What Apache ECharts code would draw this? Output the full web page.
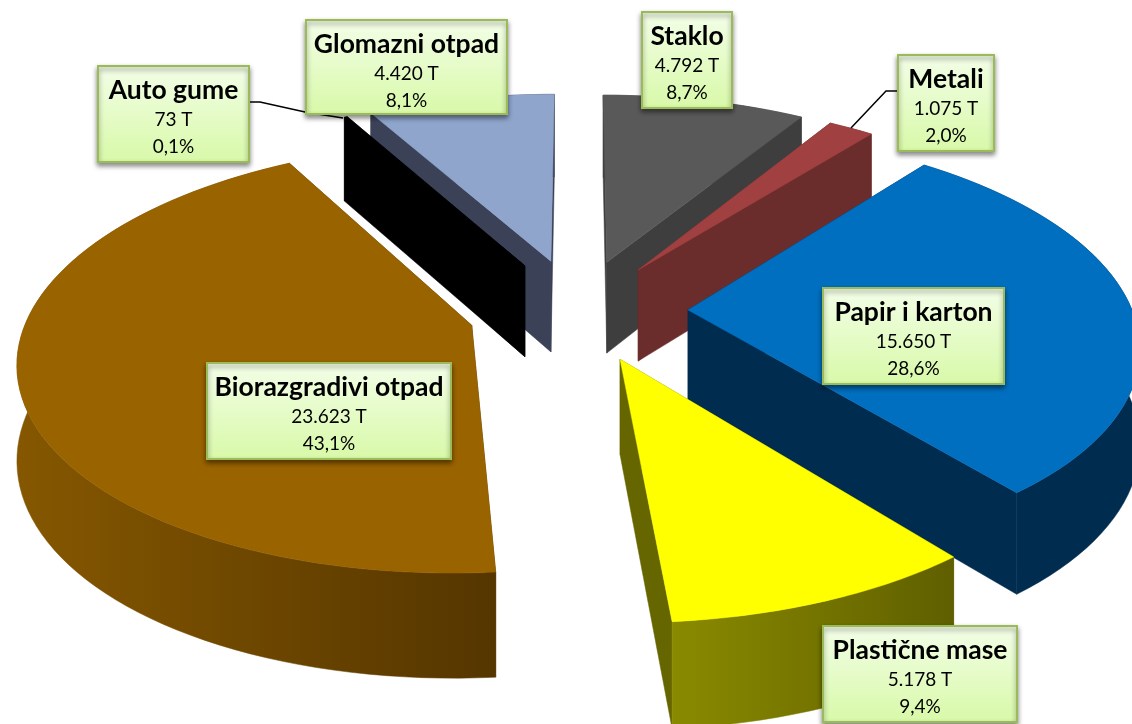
<!DOCTYPE html>
<html><head><meta charset="utf-8">
<style>html,body{margin:0;padding:0;background:#fff}#c{width:1132px;height:724px}</style>
<script src="https://cdn.jsdelivr.net/npm/echarts@6/dist/echarts.min.js"></script>
</head><body><div id="c"></div>
<script>
// Data (clockwise from 12 o'clock)
const names = ['Staklo','Metali','Papir i karton','Plastične mase','Biorazgradivi otpad','Auto gume','Glomazni otpad'];
const tonnes = [4792,1075,15650,5178,23623,73,4420];
const tonnesText = ['4.792 T','1.075 T','15.650 T','5.178 T','23.623 T','73 T','4.420 T'];
const percents = ['8,7%','2,0%','28,6%','9,4%','43,1%','0,1%','8,1%'];

// Layout / style
const total = tonnes.reduce((a,b)=>a+b,0);
const CX=578, CY=310, K=0.466, P=0.000337, H=93;
const radii=[440,440,444,445,442,440,440];
const explode=[110,108,110,110,110,112,112];
const drawOrder=[6,5,0,1,2,4,3];
const topCol=['#595959','#A04040','#006FC0','#FFFF00','#996300','#000000','#8FA5CC'];
const wallCol=['#3E3E3E','#6B2C2C','#002C4F','#666600','#573800','#000000','#3B4156'];
const rimCol=[['#3E3E3E','#3E3E3E'],['#6B2C2C','#6B2C2C'],['#002C4F','#002C4F'],['#8A8A00','#5F5F00'],['#855700','#553600'],['#000','#000'],['#3B4156','#3B4156']];
const boxes=[[642,12,90,96],[898,55,96,96],[823,288,181,96],[823,626,194,96],[207,363,244,96],[98,66,151,96],[306,20,201,94]];
const leaders={1:[[898,91],[886,91],[851,128]],5:[[249,102],[260,102],[305,112],[343,118]]};
const FONT='Lato, Carlito, "Open Sans", sans-serif';

function project(u,v,drop){
  const s=1/(1+v*P);
  return [CX+u*s, CY-v*K*s+drop*Math.pow(s,0.7)];
}
function poly(points,fill,z2){
  return {type:'polygon',z2:z2,shape:{points:points},style:{fill:fill,stroke:fill,lineWidth:0.5},silent:true};
}
function renderSlice(params,api){
  const i=api.value(1), val=api.value(0), R=radii[i];
  let before=0; for(let k=0;k<i;k++) before+=tonnes[k];
  const a0=before/total*2*Math.PI, a1=(before+val)/total*2*Math.PI, mid=(a0+a1)/2;
  const ou=explode[i]*Math.sin(mid), ov=explode[i]*Math.cos(mid);
  const base=drawOrder.indexOf(i)*10;
  const at=(a,r,d)=>project(ou+r*Math.sin(a),ov+r*Math.cos(a),d);
  const n=Math.max(2,Math.ceil((a1-a0)/(Math.PI/90)));
  const topArc=[],botArc=[];
  for(let k=0;k<=n;k++){const a=a0+(a1-a0)*k/n; topArc.push(at(a,R,0)); botArc.push(at(a,R,H));}
  const apex=at(0,0,0), apexB=at(0,0,H);
  const children=[];
  children.push(poly([apex,topArc[0],botArc[0],apexB],wallCol[i],base+1));
  children.push(poly([apex,topArc[n],botArc[n],apexB],wallCol[i],base+1));
  const rim=topArc.concat(botArc.slice().reverse());
  children.push(poly(rim,{type:'linear',x:0,y:0,x2:1,y2:0,colorStops:[{offset:0,color:rimCol[i][0]},{offset:1,color:rimCol[i][1]}]},base+2));
  children.push(poly([apex].concat(topArc),topCol[i],base+3));
  return {type:'group',children:children};
}
function renderLabel(params,api){
  const i=api.value(0), b=boxes[i], cx=b[0]+b[2]/2, ch=[];
  if(leaders[i]) ch.push({type:'polyline',z2:200,silent:true,shape:{points:leaders[i]},style:{stroke:'#000',lineWidth:1.5,fill:null}});
  ch.push({type:'rect',z2:201,silent:true,shape:{x:b[0],y:b[1],width:b[2],height:b[3]},
    style:{fill:{type:'linear',x:0,y:0,x2:0,y2:1,colorStops:[{offset:0,color:'#F3FEE8'},{offset:1,color:'#D8F9A8'}]},
      stroke:'#9BBB59',lineWidth:2,shadowBlur:5,shadowOffsetY:3,shadowColor:'rgba(0,0,0,0.45)'}});
  const t=(text,y,font)=>({type:'text',z2:202,silent:true,style:{text:text,x:cx,y:b[1]+y,align:'center',verticalAlign:'middle',font:font,fill:'#000'}});
  ch.push(t(names[i],24,'bold 26.5px '+FONT));
  ch.push(t(tonnesText[i],54,'19px '+FONT));
  ch.push(t(percents[i],81,'19px '+FONT));
  return {type:'group',children:ch};
}
const chart=echarts.init(document.getElementById('c'),null,{renderer:'canvas'});
chart.setOption({
  animation:false,
  backgroundColor:'#fff',
  series:[
    {type:'custom',coordinateSystem:'none',silent:true,renderItem:renderSlice,
      data:drawOrder.map(i=>({name:names[i],value:[tonnes[i],i]}))},
    {type:'custom',coordinateSystem:'none',silent:true,z:5,renderItem:renderLabel,
      data:names.map((n,i)=>({name:n,value:[i]}))}
  ]
});
</script></body></html>
